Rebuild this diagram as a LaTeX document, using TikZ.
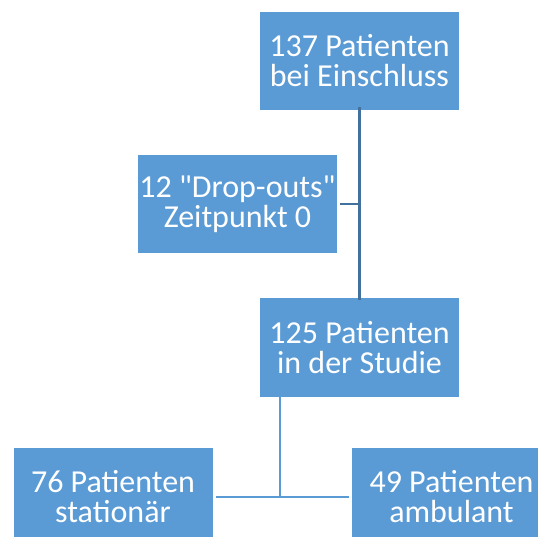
\documentclass[tikz,border=0pt]{standalone}
\usepackage{fontspec}
\setmainfont{Carlito}[Ligatures=TeXOff]
\definecolor{boxblue}{RGB}{91,155,213}
\definecolor{linedark}{RGB}{65,113,156}
\begin{document}
\begin{tikzpicture}[x=1pt,y=-1pt,
  patbox/.style={fill=boxblue, text=white, align=center, inner sep=0pt,
    minimum width=199pt, minimum height=98pt,
    font=\fontsize{32}{30}\selectfont},
  link/.style={line width=2.5pt}]
  \useasboundingbox (0,0) rectangle (538,537);
  \clip (0,0) rectangle (538,537);
  % Boxes
  \node[patbox] (incl) at (359.5,61)  {137 Patienten\\bei Einschluss};
  \node[patbox] (drop) at (237.5,204) {12 "Drop-outs"\\Zeitpunkt 0};
  \node[patbox] (stud) at (359.5,347.5) {125 Patienten\\in der Studie};
  \node[patbox] (stat) at (113,497)   {76 Patienten\\stationär};
  \node[patbox] (amb)  at (451.5,497) {49 Patienten\\ambulant};
  % Connectors
  \draw[link, linedark] ([yshift=3pt]incl.south) -- ([yshift=-2pt]stud.north);
  \draw[link, linedark] ([xshift=3pt]drop.east) -- (drop.east -| incl.south);
  \coordinate (split) at (280,497);
  \draw[link, boxblue] ([yshift=3pt]stud.south -| split) -- (split);
  \draw[link, boxblue] ([xshift=3pt]stat.east) -- ([xshift=-3pt]amb.west);
\end{tikzpicture}
\end{document}
